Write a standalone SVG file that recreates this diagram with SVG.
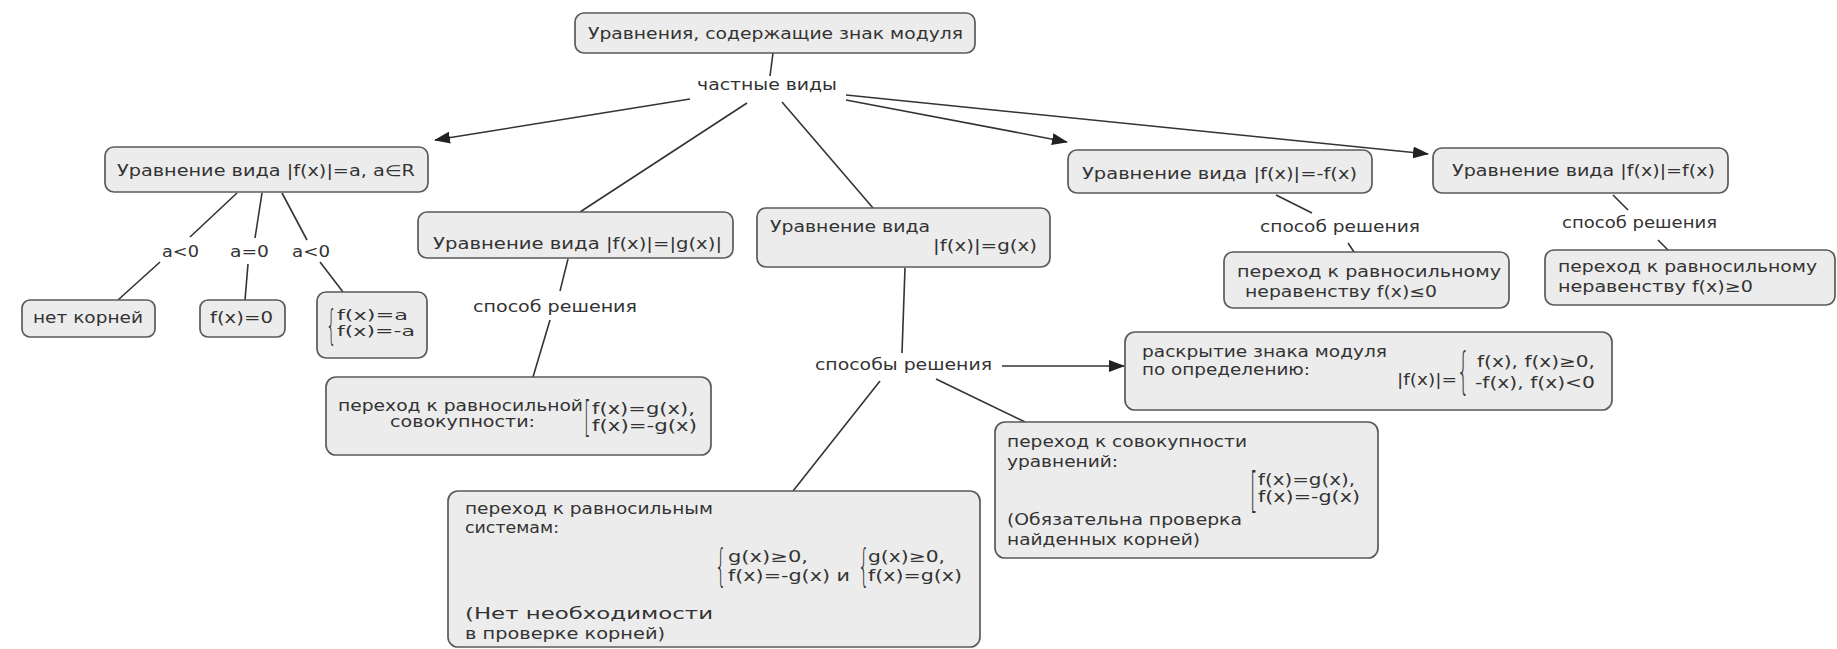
<svg xmlns="http://www.w3.org/2000/svg" width="1837" height="649" viewBox="0 0 1837 649">
<style>
.box{fill:#ececec;stroke:#5a5a5a;stroke-width:1.7}
.t{font-family:"DejaVu Sans","Liberation Sans",sans-serif;font-size:15px;fill:#333}
.s{font-size:14px}
.br{font-family:"DejaVu Sans","Liberation Sans",sans-serif;fill:#333;font-weight:300}
.c{stroke:#333;stroke-width:1.6;fill:none}
.a{marker-end:url(#arr)}
</style>
<defs>
<marker id="arr" markerUnits="userSpaceOnUse" markerWidth="16" markerHeight="12" refX="15" refY="6" orient="auto">
<path d="M0,0 L16,6 L0,12 z" fill="#222"/>
</marker>
</defs>
<rect width="1837" height="649" fill="#fff"/>

<g id="connectors">
<line class="c" x1="773" y1="53" x2="770" y2="76"/>
<line class="c a" x1="690" y1="99" x2="435" y2="140"/>
<line class="c" x1="747" y1="103" x2="580" y2="212"/>
<line class="c" x1="782" y1="102" x2="873" y2="208"/>
<line class="c a" x1="846" y1="100" x2="1067" y2="142"/>
<line class="c a" x1="846" y1="95" x2="1428" y2="154"/>
<line class="c" x1="237" y1="193" x2="190" y2="237"/>
<line class="c" x1="160" y1="262" x2="118" y2="300"/>
<line class="c" x1="262" y1="193" x2="255" y2="238"/>
<line class="c" x1="248" y1="264" x2="245" y2="300"/>
<line class="c" x1="282" y1="193" x2="307" y2="240"/>
<line class="c" x1="320" y1="262" x2="343" y2="292"/>
<line class="c" x1="568" y1="259" x2="560" y2="291"/>
<line class="c" x1="550" y1="320" x2="533" y2="377"/>
<line class="c" x1="905" y1="268" x2="902" y2="353"/>
<line class="c a" x1="1002" y1="366" x2="1124" y2="366"/>
<line class="c" x1="880" y1="381" x2="793" y2="491"/>
<line class="c" x1="936" y1="379" x2="1025" y2="422"/>
<line class="c" x1="1276" y1="195" x2="1312" y2="213"/>
<line class="c" x1="1348" y1="243" x2="1354" y2="252"/>
<line class="c" x1="1613" y1="195" x2="1628" y2="210"/>
<line class="c" x1="1658" y1="240" x2="1668" y2="250"/>
</g>

<g id="n-top">
<rect class="box" x="575" y="13" width="400" height="40" rx="9"/>
<text class="t" x="588" y="39" textLength="375" lengthAdjust="spacingAndGlyphs">Уравнения, содержащие знак модуля</text>
</g>
<g id="l-chastnye">
<text class="t" x="697" y="90" textLength="140" lengthAdjust="spacingAndGlyphs">частные виды</text>
</g>

<g id="n-a">
<rect class="box" x="105" y="147" width="323" height="45" rx="9"/>
<text class="t" x="117" y="176" textLength="298" lengthAdjust="spacingAndGlyphs">Уравнение вида |f(x)|=a, a∈R</text>
</g>
<g id="l-a1"><text class="t" x="162" y="257" textLength="37" lengthAdjust="spacingAndGlyphs">a&lt;0</text></g>
<g id="l-a2"><text class="t" x="230" y="257" textLength="39" lengthAdjust="spacingAndGlyphs">a=0</text></g>
<g id="l-a3"><text class="t" x="292" y="257" textLength="38" lengthAdjust="spacingAndGlyphs">a&lt;0</text></g>
<g id="n-noroots">
<rect class="box" x="22" y="300" width="133" height="37" rx="8"/>
<text class="t" x="33" y="323" textLength="110" lengthAdjust="spacingAndGlyphs">нет корней</text>
</g>
<g id="n-f0">
<rect class="box" x="200" y="300" width="85" height="37" rx="8"/>
<text class="t" x="210" y="323" textLength="63" lengthAdjust="spacingAndGlyphs">f(x)=0</text>
</g>
<g id="n-fa">
<rect class="box" x="317" y="292" width="110" height="66" rx="9"/>
<text class="br" font-size="41" transform="translate(326,339) scale(0.4,1)">{</text>
<text class="t s" x="337" y="320" textLength="71" lengthAdjust="spacingAndGlyphs">f(x)=a</text>
<text class="t s" x="337" y="336" textLength="78" lengthAdjust="spacingAndGlyphs">f(x)=-a</text>
</g>

<g id="n-gg">
<rect class="box" x="418" y="212" width="315" height="46" rx="9"/>
<text class="t" x="433" y="249" textLength="289" lengthAdjust="spacingAndGlyphs">Уравнение вида |f(x)|=|g(x)|</text>
</g>
<g id="l-sposob1"><text class="t" x="473" y="312" textLength="164" lengthAdjust="spacingAndGlyphs">способ решения</text></g>
<g id="n-gg-sol">
<rect class="box" x="326" y="377" width="385" height="78" rx="10"/>
<text class="t" x="338" y="411" textLength="245" lengthAdjust="spacingAndGlyphs">переход к равносильной</text>
<text class="t" x="390" y="427" textLength="145" lengthAdjust="spacingAndGlyphs">совокупности:</text>
<text class="br" font-size="43" transform="translate(584,432) scale(0.4,1)">[</text>
<text class="t" x="592" y="414" textLength="103" lengthAdjust="spacingAndGlyphs">f(x)=g(x),</text>
<text class="t" x="592" y="431" textLength="105" lengthAdjust="spacingAndGlyphs">f(x)=-g(x)</text>
</g>

<g id="n-fg">
<rect class="box" x="757" y="208" width="293" height="59" rx="9"/>
<text class="t" x="770" y="232" textLength="160" lengthAdjust="spacingAndGlyphs">Уравнение вида</text>
<text class="t" x="933" y="251" textLength="104" lengthAdjust="spacingAndGlyphs">|f(x)|=g(x)</text>
</g>
<g id="l-sposoby"><text class="t" x="815" y="370" textLength="177" lengthAdjust="spacingAndGlyphs">способы решения</text></g>

<g id="n-def">
<rect class="box" x="1125" y="332" width="487" height="78" rx="10"/>
<text class="t" x="1142" y="357" textLength="245" lengthAdjust="spacingAndGlyphs">раскрытие знака модуля</text>
<text class="t" x="1142" y="375" textLength="168" lengthAdjust="spacingAndGlyphs">по определению:</text>
<text class="t" x="1397" y="385" textLength="60" lengthAdjust="spacingAndGlyphs">|f(x)|=</text>
<text class="br" font-size="49" transform="translate(1457,388) scale(0.4,1)">{</text>
<text class="t" x="1477" y="367" textLength="118" lengthAdjust="spacingAndGlyphs">f(x), f(x)≥0,</text>
<text class="t" x="1475" y="388" textLength="120" lengthAdjust="spacingAndGlyphs">-f(x), f(x)&lt;0</text>
</g>

<g id="n-sovok">
<rect class="box" x="995" y="422" width="383" height="136" rx="10"/>
<text class="t" x="1007" y="447" textLength="240" lengthAdjust="spacingAndGlyphs">переход к совокупности</text>
<text class="t" x="1007" y="467" textLength="111" lengthAdjust="spacingAndGlyphs">уравнений:</text>
<text class="br" font-size="48" transform="translate(1250,507) scale(0.4,1)">[</text>
<text class="t" x="1258" y="485" textLength="97" lengthAdjust="spacingAndGlyphs">f(x)=g(x),</text>
<text class="t" x="1258" y="502" textLength="102" lengthAdjust="spacingAndGlyphs">f(x)=-g(x)</text>
<text class="t" x="1007" y="525" textLength="235" lengthAdjust="spacingAndGlyphs">(Обязательна проверка</text>
<text class="t" x="1007" y="545" textLength="193" lengthAdjust="spacingAndGlyphs">найденных корней)</text>
</g>

<g id="n-systems">
<rect class="box" x="448" y="491" width="532" height="156" rx="10"/>
<text class="t" x="465" y="514" textLength="248" lengthAdjust="spacingAndGlyphs">переход к равносильным</text>
<text class="t" x="465" y="533" textLength="94" lengthAdjust="spacingAndGlyphs">системам:</text>
<text class="br" font-size="45" transform="translate(715,581) scale(0.4,1)">{</text>
<text class="t" x="728" y="562" textLength="80" lengthAdjust="spacingAndGlyphs">g(x)≥0,</text>
<text class="t" x="728" y="581" textLength="122" lengthAdjust="spacingAndGlyphs">f(x)=-g(x) и</text>
<text class="br" font-size="45" transform="translate(858,581) scale(0.4,1)">{</text>
<text class="t" x="868" y="562" textLength="77" lengthAdjust="spacingAndGlyphs">g(x)≥0,</text>
<text class="t" x="868" y="581" textLength="94" lengthAdjust="spacingAndGlyphs">f(x)=g(x)</text>
<text class="t" x="465" y="619" textLength="248" lengthAdjust="spacingAndGlyphs">(Нет необходимости</text>
<text class="t" x="465" y="639" textLength="200" lengthAdjust="spacingAndGlyphs">в проверке корней)</text>
</g>

<g id="n-neg">
<rect class="box" x="1068" y="150" width="304" height="43" rx="9"/>
<text class="t" x="1082" y="179" textLength="275" lengthAdjust="spacingAndGlyphs">Уравнение вида |f(x)|=-f(x)</text>
</g>
<g id="l-sposob2"><text class="t" x="1260" y="232" textLength="160" lengthAdjust="spacingAndGlyphs">способ решения</text></g>
<g id="n-neg-sol">
<rect class="box" x="1224" y="252" width="285" height="56" rx="9"/>
<text class="t" x="1237" y="277" textLength="264" lengthAdjust="spacingAndGlyphs">переход к равносильному</text>
<text class="t" x="1245" y="297" textLength="192" lengthAdjust="spacingAndGlyphs">неравенству f(x)≤0</text>
</g>

<g id="n-pos">
<rect class="box" x="1433" y="148" width="295" height="45" rx="9"/>
<text class="t" x="1452" y="176" textLength="263" lengthAdjust="spacingAndGlyphs">Уравнение вида |f(x)|=f(x)</text>
</g>
<g id="l-sposob3"><text class="t" x="1562" y="228" textLength="155" lengthAdjust="spacingAndGlyphs">способ решения</text></g>
<g id="n-pos-sol">
<rect class="box" x="1545" y="250" width="290" height="55" rx="9"/>
<text class="t" x="1558" y="272" textLength="259" lengthAdjust="spacingAndGlyphs">переход к равносильному</text>
<text class="t" x="1558" y="292" textLength="195" lengthAdjust="spacingAndGlyphs">неравенству f(x)≥0</text>
</g>
</svg>
